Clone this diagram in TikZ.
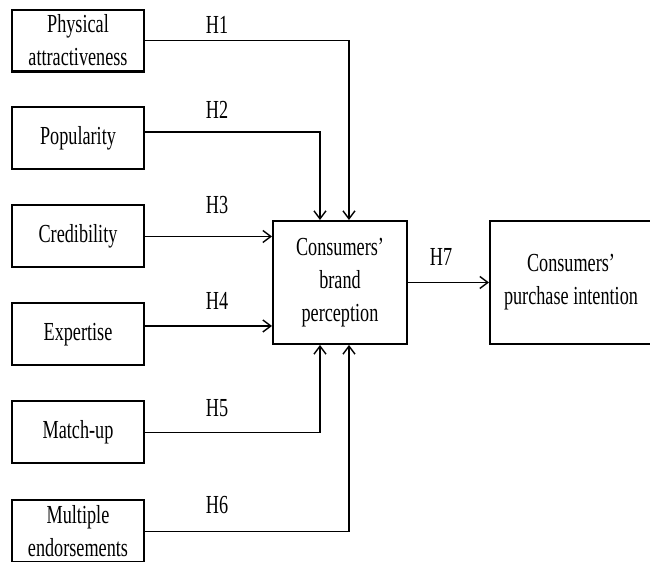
\documentclass[tikz,border=0pt]{standalone}
\usepackage{fontspec}
\setmainfont{Liberation Serif}[FakeStretch=0.7]
\usetikzlibrary{arrows.meta}
\tikzstyle{factor} = [rectangle, minimum width = 66pt, minimum height = 31pt, inner sep = 0pt, align = center, draw = black, line width = 1pt]
\tikzstyle{outcome} = [rectangle, minimum width = 67pt, minimum height = 61.5pt, inner sep = 0pt, align = center, draw = black, line width = 1pt]
\tikzstyle{arrow} = [line width = 0.7pt, -{Straight Barb[length=4pt,width=6pt]}]

\begin{document}
\begin{tikzpicture}[x = 0.5pt, y = -0.5pt, node distance = 49pt, font = \fontsize{13}{16.5}\selectfont]
\useasboundingbox (0,0) rectangle (650,562);

\node(physical)    [factor] at (78,40.5) {Physical\\attractiveness};
\node(popularity)  [factor, below of = physical] {Popularity};
\node(credibility) [factor, below of = popularity] {Credibility};
\node(expertise)   [factor, below of = credibility] {Expertise};
\node(matchup)     [factor, below of = expertise] {Match-up};
\node(multiple)    [factor, below of = matchup, yshift = -0.5pt] {Multiple\\endorsements};

\node(brandperc) [outcome] at (340,282.5) {Consumers’\\brand\\perception};
\node(purchint)  [outcome, minimum width = 81pt] at (571,282.5) {Consumers’\\purchase intention};

% hypothesis labels
\node(h1) at (217,25)  {H1};
\node(h2) at (217,110) {H2};
\node(h3) at (217,205) {H3};
\node(h4) at (217,301) {H4};
\node(h5) at (217,408) {H5};
\node(h6) at (217,505) {H6};
\node(h7) at (441,257) {H7};

\coordinate(popout) at ([yshift = 3.25pt]popularity.east);
\coordinate(expout) at ([yshift = 4.25pt]expertise.east);

\draw [arrow] (physical.east) -| ([xshift = 4.5pt]brandperc.north);
\draw [arrow] (popout) -| ([xshift = -10pt]brandperc.north);
\draw [arrow] (credibility.east) -- (credibility.east -| brandperc.west);
\draw [arrow] (expout) -- (expout -| brandperc.west);
\draw [arrow] (matchup.east) -| ([xshift = -10pt]brandperc.south);
\draw [arrow] (multiple.east) -| ([xshift = 4.5pt]brandperc.south);
\draw [arrow] (brandperc) -- (purchint);

\end{tikzpicture}
\end{document}
